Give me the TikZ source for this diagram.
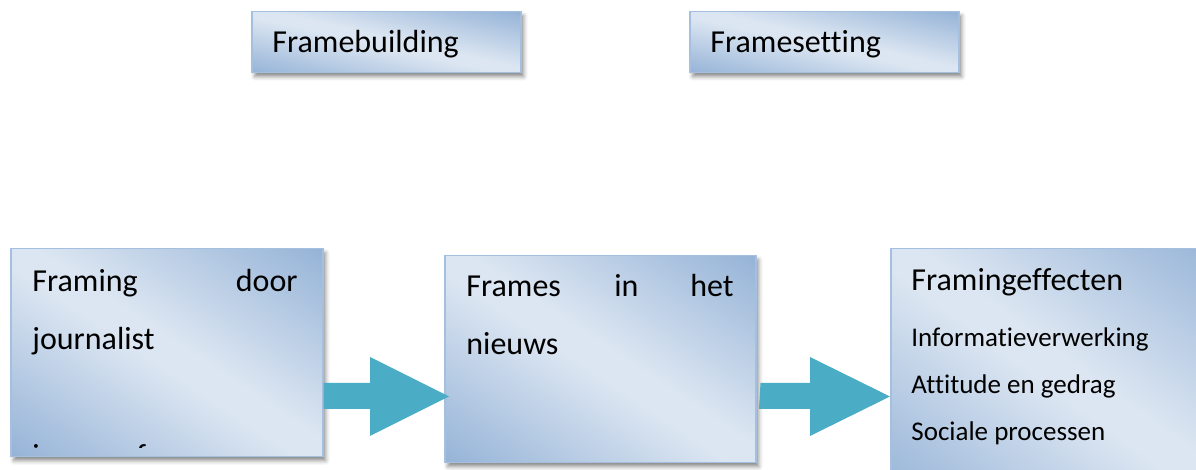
\documentclass[tikz,border=0pt]{standalone}
\usepackage{fontspec}
\setmainfont{Carlito}[Ligatures={NoCommon}]
\usetikzlibrary{shadows.blur}

\definecolor{gdark}{HTML}{95B3D7}
\definecolor{glight}{HTML}{DCE6F2}
\definecolor{boxline}{HTML}{A5BFDF}
\definecolor{arrowfill}{HTML}{4BACC6}

% diagonal gradient: dark corners, light middle
\pgfdeclareverticalshading{boxgrad}{100bp}{color(0bp)=(gdark); color(25bp)=(gdark); color(48bp)=(glight); color(52bp)=(glight); color(75bp)=(gdark); color(100bp)=(gdark)}

% fill the current path with the gradient so that the light band
% follows the top-left to bottom-right diagonal of the box
\newcommand\diaggradfill{%
  \pgfpointdiff{\pgfpointanchor{path picture bounding box}{south west}}%
               {\pgfpointanchor{path picture bounding box}{north east}}%
  \pgfgetlastxy{\gradw}{\gradh}%
  \pgfmathsetmacro\gradsx{0.5*\gradw/17.744}%
  \pgfmathsetmacro\gradsy{0.5*\gradh/17.744}%
  \pgftransformshift{\pgfpointanchor{path picture bounding box}{center}}%
  \pgftransformxscale{\gradsx}\pgftransformyscale{\gradsy}%
  \pgftransformrotate{-45}%
  \pgflowlevelsynccm
  \pgfuseshading{boxgrad}%
}

\tikzset{
  gradbox/.style={rectangle, draw=boxline, line width=0.75pt, fill=glight,
    path picture={\diaggradfill},
    anchor=north west, inner sep=0pt,
    blur shadow={shadow xshift=1.5pt, shadow yshift=-2pt, shadow blur radius=2pt, shadow opacity=45}},
  big/.style={inner sep=0pt, anchor=base west, font=\fontsize{16}{19}\selectfont},
  bigr/.style={big, anchor=base east},
  small/.style={inner sep=0pt, anchor=base west, font=\fontsize{13.5}{16}\selectfont},
  blockarrow/.style={fill=arrowfill, draw=none}
}

\begin{document}
\begin{tikzpicture}[x=0.5pt, y=-0.5pt]
  \useasboundingbox (0,0) rectangle (1196,470);
  \clip (0,0) rectangle (1196,470);

  % top labels
  \node[gradbox, minimum width=134.5pt, minimum height=30.5pt] (fb) at (251,11) {};
  \node[gradbox, minimum width=134.5pt, minimum height=30.5pt] (fs) at (689,11) {};
  \node[big] (fbt) at (272,53) {Framebuilding};
  \node[big] (fst) at (710,53) {Framesetting};

  % process boxes
  \node[gradbox, minimum width=156pt, minimum height=104pt] (fj) at (10,248) {};
  \node[gradbox, minimum width=155.5pt, minimum height=103.5pt] (fn) at (444,255) {};
  \node[gradbox, minimum width=170pt, minimum height=125pt] (fe) at (890,248) {};

  % framing door journalist
  \node[big] (fj1) at (32,292) {Framing};
  \node[bigr] (fj2) at (298,292) {door};
  \node[big] (fj3) at (32,350) {journalist};
  \begin{scope}
    \clip (12,250) rectangle (320,448);
    \node[big] (fj4) at (32,467) {i};
    \node[big] (fj5) at (136,467) {f};
  \end{scope}

  % frames in het nieuws
  \node[big] (fn1) at (466,297) {Frames};
  \node[big] (fn2) at (614,297) {in};
  \node[bigr] (fn3) at (734,297) {het};
  \node[big] (fn4) at (466,355) {nieuws};

  % framingeffecten
  \node[big] (fe1) at (911,291) {Framingeffecten};
  \node[small] (fe2) at (911,347) {Informatieverwerking};
  \node[small] (fe3) at (911,394) {Attitude en gedrag};
  \node[small] (fe4) at (911,441) {Sociale processen};

  % block arrows between the process boxes
  \fill[blockarrow] (fj.east |- 0,383) -- (370,383) -- (370,357)
    -- (449,396.5) -- (370,436) -- (370,409) -- (fj.east |- 0,409) -- cycle;
  \fill[blockarrow] (fn.east |- 0,383) ++(4,0) -- (810,383) -- (810,357)
    -- (890,396.5) -- (810,436) -- (810,409) -- (759,409) -- cycle;
\end{tikzpicture}
\end{document}
